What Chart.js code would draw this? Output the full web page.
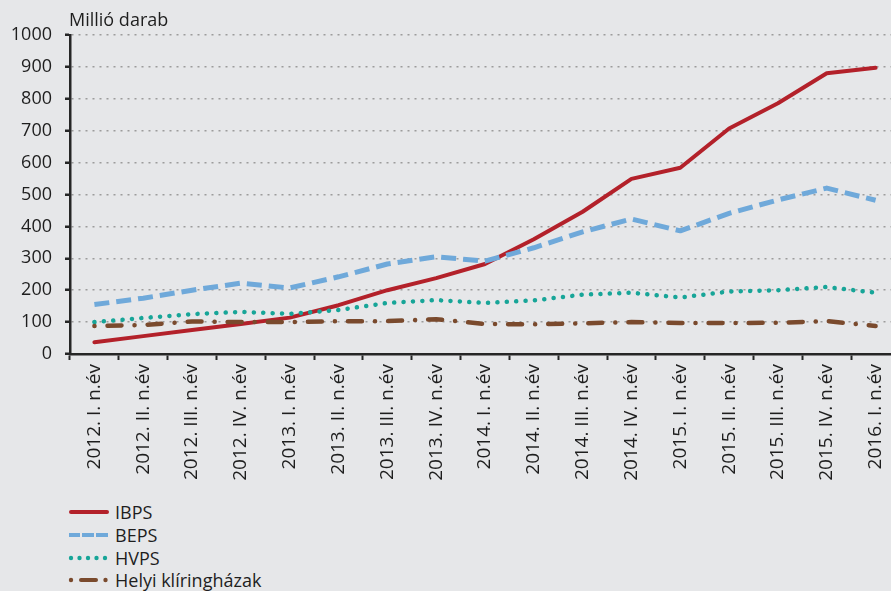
<!DOCTYPE html>
<html>
<head>
<meta charset="utf-8">
<script src="https://cdn.jsdelivr.net/npm/chart.js@4.4.1/dist/chart.umd.min.js"></script>
<style>
  html, body { margin: 0; padding: 0; background: #e6e7e9; overflow: hidden; width: 891px; height: 591px; }
  #wrap { position: absolute; left: 0; top: 0; width: 905px; height: 500px; }
  #legend { position: absolute; left: 0; top: 0; font-family: "Open Sans", sans-serif; font-size: 18px; color: #1e1e1e; }
  .row { position: absolute; left: 68px; height: 22px; width: 250px; display: flex; align-items: center; }
  .row svg { width: 42px; height: 8px; margin-right: 5px; }
  .row span { line-height: 22px; }
</style>
</head>
<body>
<div id="wrap"><canvas id="c"></canvas></div>
<div id="legend"></div>
<script>
const categories = ["2012. I. n.év","2012. II. n.év","2012. III. n.év","2012. IV. n.év",
  "2013. I. n.év","2013. II. n.év","2013. III. n.év","2013. IV. n.év",
  "2014. I. n.év","2014. II. n.év","2014. III. n.év","2014. IV. n.év",
  "2015. I. n.év","2015. II. n.év","2015. III. n.év","2015. IV. n.év",
  "2016. I. n.év"];
const ibps  = [37, 56, 75, 94, 114, 153, 200, 238, 282, 360, 446, 549, 584, 707, 786, 880, 897];
const beps  = [155, 175, 200, 222, 207, 242, 282, 305, 291, 333, 383, 423, 386, 441, 483, 520, 482];
const hvps  = [100, 113, 125, 132, 126, 138, 160, 169, 160, 168, 186, 192, 177, 196, 200, 210, 192];
const helyi = [88, 91, 102, 100, 100, 103, 103, 109, 94, 93, 96, 100, 97, 97, 98, 103, 88];
const seriesNames = ["IBPS", "BEPS", "HVPS", "Helyi klíringházak"];
const yTitle = "Millió darab";

const colors = ["#b3212a", "#6fa9da", "#17a598", "#7a4a2d"];
const dashes = [[], [15, 7], [0.1, 9.3], [0.1, 13, 14, 13]];
const caps = ["round", "butt", "round", "round"];
const widths = [4, 5, 4.5, 4.5];
const allData = [ibps, beps, hvps, helyi];
const textColor = '#1e1e1e';

const titlePlugin = {
  id: 'ytitle',
  afterDraw(chart) {
    const ctx = chart.ctx;
    ctx.save();
    ctx.font = '18px "Open Sans", sans-serif';
    ctx.fillStyle = textColor;
    ctx.textAlign = 'left';
    ctx.textBaseline = 'alphabetic';
    ctx.fillText(yTitle, chart.scales.y.right - 1, 26);
    ctx.restore();
  }
};

const chart = new Chart(document.getElementById('c'), {
  type: 'line',
  data: {
    labels: categories,
    datasets: allData.map((d, i) => ({
      label: seriesNames[i],
      data: d,
      borderColor: colors[i],
      backgroundColor: colors[i],
      borderWidth: widths[i],
      borderDash: dashes[i],
      borderCapStyle: caps[i],
      borderJoinStyle: 'round',
      pointRadius: 0,
      tension: 0,
      fill: false
    })).reverse()
  },
  options: {
    responsive: true,
    maintainAspectRatio: false,
    animation: false,
    layout: { padding: { top: 35, right: 5, left: 0, bottom: 0 } },
    plugins: { legend: { display: false }, tooltip: { enabled: false } },
    scales: {
      x: {
        offset: true,
        grid: { offset: true, drawOnChartArea: false, drawTicks: true, tickLength: 6, tickColor: '#262626', tickWidth: 2 },
        border: { display: true, color: '#262626', width: 2.5 },
        ticks: {
          autoSkip: false, minRotation: 90, maxRotation: 90, padding: 4,
          color: textColor, font: { family: '"Open Sans", sans-serif', size: 19 }
        },
        afterFit(scale) { scale.height = 146; }
      },
      y: {
        min: 0, max: 1000,
        ticks: { stepSize: 100, padding: 13, color: textColor, font: { family: '"Open Sans", sans-serif', size: 18 },
          callback: (v) => String(v) },
        grid: { color: '#9c9c9c', lineWidth: 1.5, tickLength: 5, tickColor: '#262626', tickWidth: 2.5, tickBorderDash: [] },
        border: { display: true, color: '#262626', width: 2.5, dash: [2, 5] },
        afterFit(scale) { scale.width = 70; }
      }
    }
  },
  plugins: [titlePlugin]
});

// legend samples (symbol shapes only)
const legendRows = [512, 534.5, 557.5, 580];
function sample(i) {
  const c = colors[i];
  const seg = (a, b, cap) => '<line x1="' + a + '" y1="4" x2="' + b + '" y2="4" stroke="' + c + '" stroke-width="4" stroke-linecap="' + cap + '"/>';
  const dot = (x) => '<circle cx="' + x + '" cy="4" r="2.2" fill="' + c + '"/>';
  if (i === 0) return seg(3, 39, 'round');
  if (i === 1) return seg(1, 12, 'butt') + seg(14, 26, 'butt') + seg(28, 40, 'butt');
  if (i === 2) return dot(3) + dot(11.5) + dot(20) + dot(28.5) + dot(37);
  return dot(3) + seg(13, 28, 'round') + dot(37.5);
}
const legend = document.getElementById('legend');
seriesNames.forEach((name, i) => {
  const row = document.createElement('div');
  row.className = 'row';
  row.style.top = (legendRows[i] - 11) + 'px';
  row.innerHTML = '<svg viewBox="0 0 42 8">' + sample(i) + '</svg><span>' + name + '</span>';
  legend.appendChild(row);
});
</script>
</body>
</html>
